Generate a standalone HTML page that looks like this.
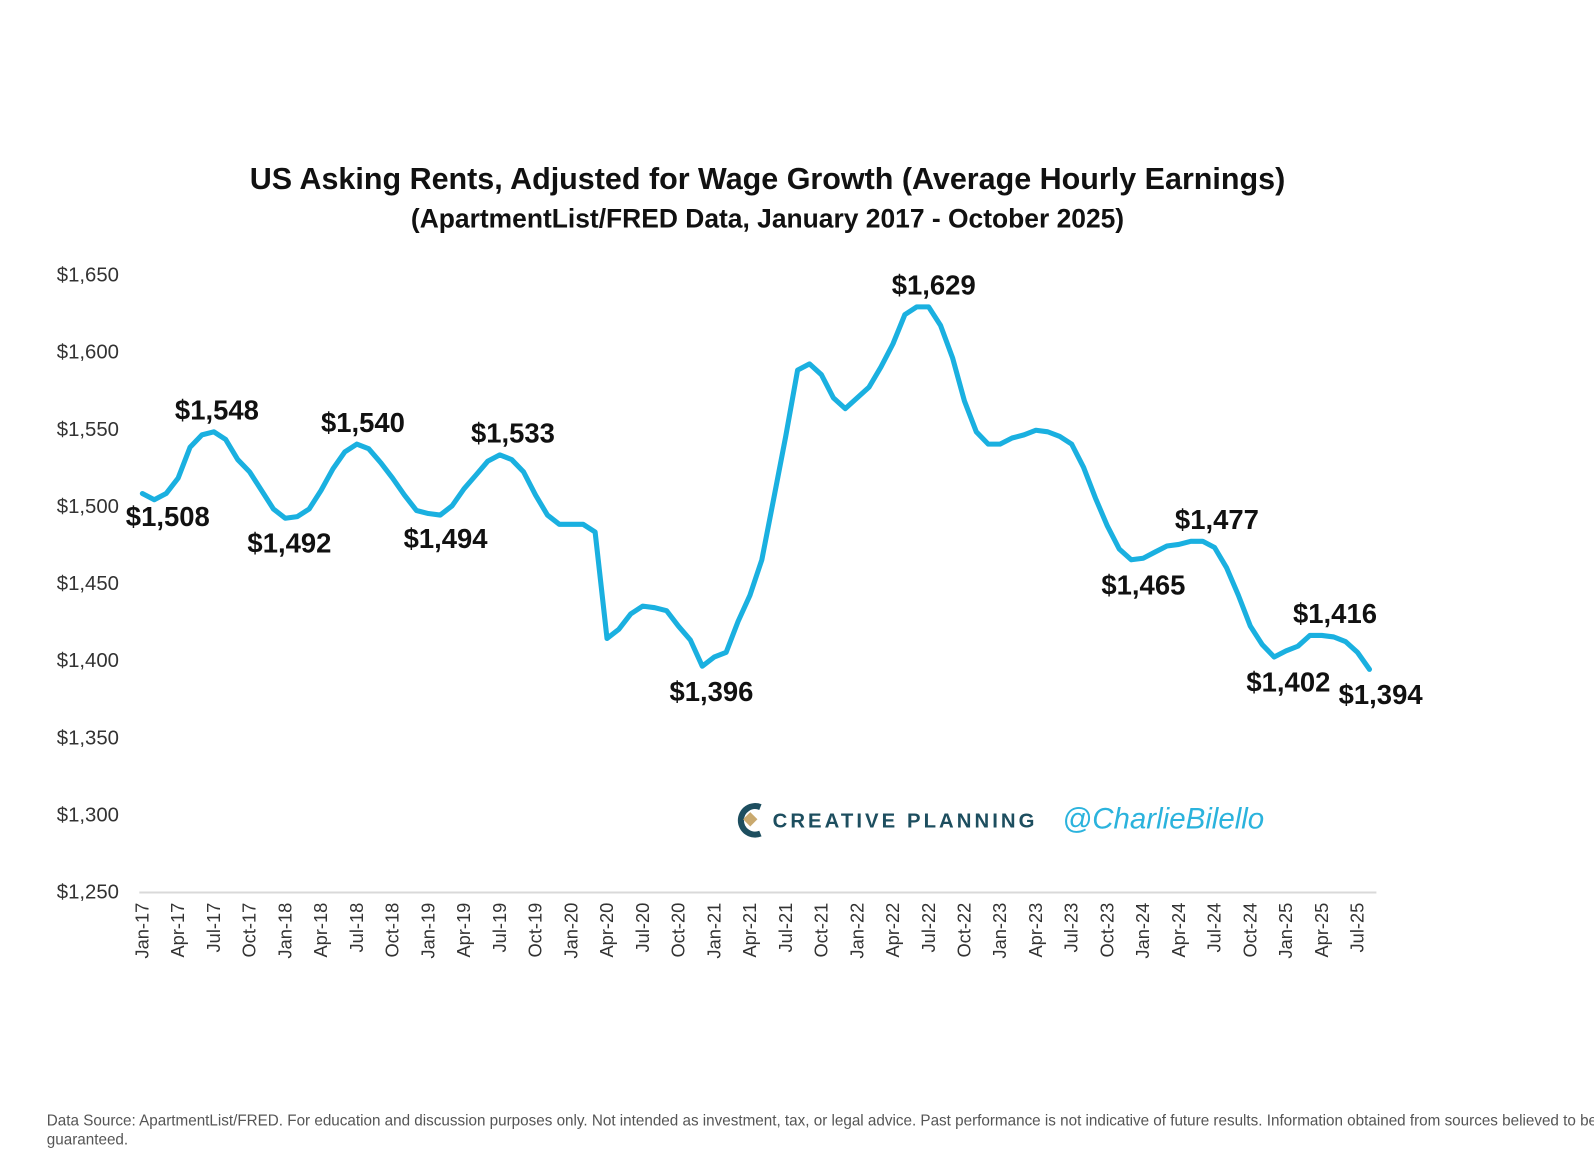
<!DOCTYPE html>
<html><head><meta charset="utf-8">
<style>
html,body{margin:0;padding:0;background:#fff;}
body{width:1594px;height:1170px;overflow:hidden;position:relative;font-family:"Liberation Sans",sans-serif;}
svg{position:absolute;left:0;top:0;}
</style></head>
<body>
<svg id="chart" width="1594" height="1170" viewBox="0 0 1568 1151">
  <text x="755" y="186" text-anchor="middle" font-size="30" font-weight="bold" fill="#111">US Asking Rents, Adjusted for Wage Growth (Average Hourly Earnings)</text>
  <text x="755" y="224" text-anchor="middle" font-size="26" font-weight="bold" fill="#111">(ApartmentList/FRED Data, January 2017 - October 2025)</text>
  <g id="yaxis"></g>
  <g id="xaxis"></g>
  <g id="series"></g>
  <g id="labels"></g>
  <g>
    <g>
      <path d="M748 794 A14 14 0 1 0 748 820" fill="none" stroke="#1d4e5f" stroke-width="6"/>
      <rect x="733" y="801" width="10" height="10" fill="#c9a96e" transform="rotate(45 738 806)"/>
    </g>
    <text x="760" y="814" font-size="20" font-weight="bold" letter-spacing="3" fill="#1d4e5f">CREATIVE PLANNING</text>
    <text x="1045" y="815" font-size="29" font-style="italic" fill="#2bb3dd">@CharlieBilello</text>
  </g>
  <text x="46" y="1107" font-size="15" fill="#555">Data Source: ApartmentList/FRED. For education and discussion purposes only. Not intended as investment, tax, or legal advice. Past performance is not indicative of future results. Information obtained from sources believed to be reliable but not</text>
  <text x="46" y="1126" font-size="15" fill="#555">guaranteed.</text>
</svg>
<script>
const months = ["Jan","Feb","Mar","Apr","May","Jun","Jul","Aug","Sep","Oct","Nov","Dec"];
const startYear = 2017;
const rents = [
1508,1504,1508,1518,1538,1546,1548,1543,1530,1522,1510,1498,
1492,1493,1498,1510,1524,1535,1540,1537,1528,1518,1507,1497,
1495,1494,1500,1511,1520,1529,1533,1530,1522,1507,1494,1488,
1488,1488,1483,1414,1420,1430,1435,1434,1432,1422,1413,1396,
1402,1405,1425,1442,1465,1505,1545,1588,1592,1585,1570,1563,
1570,1577,1590,1605,1624,1629,1629,1617,1596,1568,1548,1540,
1540,1544,1546,1549,1548,1545,1540,1525,1505,1487,1472,1465,
1466,1470,1474,1475,1477,1477,1473,1460,1442,1422,1410,1402,
1406,1409,1416,1416,1415,1412,1405,1394
];
const yTicks = [1250,1300,1350,1400,1450,1500,1550,1600,1650];
const annIdx = [0,6,12,18,24,30,47,66,83,89,95,99,103];
const annText = ["$1,508","$1,548","$1,492","$1,540","$1,494","$1,533","$1,396","$1,629","$1,465","$1,477","$1,402","$1,416","$1,394"];
const annAbove = [false,true,false,true,false,true,false,true,false,true,false,true,false];

const NS="http://www.w3.org/2000/svg";
const x0=140, dx=11.72;
const xs = i => x0 + dx*i;
const ys = v => 877 - (v-1250)*607/400;
const labelShift = [25,3,4,6,17,13,9,5,12,14,14,13,11];
function mk(tag, attrs, parent){const e=document.createElementNS(NS,tag);for(const k in attrs)e.setAttribute(k,attrs[k]);parent.appendChild(e);return e;}

const yaxis=document.getElementById('yaxis');
yTicks.forEach(v=>{
  const t=mk('text',{x:117,y:ys(v)+7,'text-anchor':'end','font-size':20,fill:'#333'},yaxis);
  
  
  t.textContent='$'+v.toLocaleString('en-US');
});
const xaxis=document.getElementById('xaxis');
const axl=mk('line',{x1:137,y1:878,x2:1354,y2:878,stroke:'#d9d9d9','stroke-width':2},xaxis);


for(let i=0;i<rents.length;i+=3){
  const lab=months[i%12]+'-'+String((startYear+Math.floor(i/12))%100).padStart(2,'0');
  const x=xs(i)+6;
  const t=mk('text',{x:0,y:0,'text-anchor':'end','font-size':18,fill:'#333',transform:`translate(${x},888) rotate(-90)`},xaxis);
  
  
  t.textContent=lab;
}
const series=document.getElementById('series');
const d=rents.map((v,i)=>(i?'L':'M')+xs(i).toFixed(1)+' '+ys(v).toFixed(1)).join(' ');
const p=mk('path',{d:d,fill:'none',stroke:'#1ab0e0','stroke-width':5,'stroke-linejoin':'round','stroke-linecap':'round'},series);


const labels=document.getElementById('labels');
annIdx.forEach((idx,k)=>{
  const v=rents[idx];
  let x=xs(idx)+labelShift[k], y=annAbove[k]? ys(v)-12 : ys(v)+34;
  if(k===0){y=ys(v)+32;}
  const t=mk('text',{x:x,y:y,'text-anchor':'middle','font-size':27,'font-weight':'bold',fill:'#111'},labels);
  
  
  t.textContent=annText[k];
});
</script>
</body></html>
